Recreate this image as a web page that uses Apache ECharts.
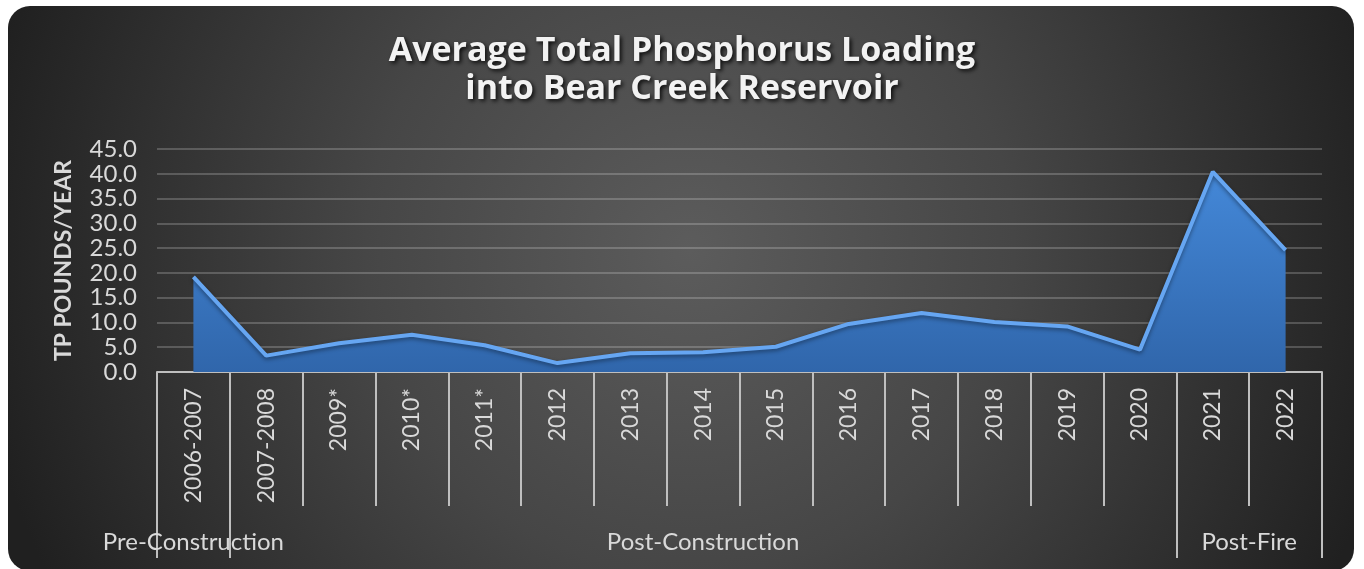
<!DOCTYPE html>
<html>
<head>
<meta charset="utf-8">
<script src="https://cdn.jsdelivr.net/npm/echarts@6/dist/echarts.min.js"></script>
<style>
  html, body { margin: 0; padding: 0; background: #ffffff; }
  #chart { width: 1364px; height: 569px; }
</style>
</head>
<body>
<div id="chart"></div>
<script>
// categories on the x axis
var years = ['2006-2007', '2007-2008', '2009*', '2010*', '2011*', '2012', '2013', '2014',
    '2015', '2016', '2017', '2018', '2019', '2020', '2021', '2022'];
// average TP loading, pounds/year
var tpLoading = [19.2, 3.3, 5.8, 7.5, 5.4, 1.8, 3.8, 4.0, 5.1, 9.7, 11.9, 10.1, 9.2, 4.5, 40.4, 24.6];
// y axis ticks
var yTicks = [0, 5, 10, 15, 20, 25, 30, 35, 40, 45];
// period groups under the axis: name, first index, last index
var periodNames = ['Pre-Construction', 'Post-Construction', 'Post-Fire'];
var periodStart = [0, 1, 14];
var periodEnd = [0, 13, 15];

var gridLeft = 157, gridRight = 42;
var bandWidth = (1364 - gridLeft - gridRight) / years.length;
var labelColor = '#d9d9d9';
var fontFamily = 'Lato, "Open Sans", sans-serif';

// where each period label goes (index + half-band shift)
var periodLabelAt = {};
periodNames.forEach(function (name, i) {
    var mid = (periodStart[i] + periodEnd[i]) / 2;
    var idx = Math.floor(mid);
    periodLabelAt[idx] = { name: name, shift: (mid - idx) * 2 * bandWidth };
});
var groupRich = {};
Object.keys(periodLabelAt).forEach(function (k) {
    groupRich['p' + k] = {
        color: labelColor, fontSize: 24, fontFamily: fontFamily,
        padding: [0, 0, 0, periodLabelAt[k].shift]
    };
});

var dom = document.getElementById('chart');
var myChart = echarts.init(dom, null, { renderer: 'canvas' });

var option = {
    backgroundColor: '#ffffff',
    animation: false,
    graphic: [
        {
            type: 'rect',
            z: -10,
            silent: true,
            shape: { x: 8, y: 6, width: 1346, height: 565, r: 22 },
            style: {
                fill: {
                    type: 'radial', x: 690, y: 250, r: 720, global: true,
                    colorStops: [
                        { offset: 0, color: '#5c5c5c' },
                        { offset: 0.45, color: '#464646' },
                        { offset: 1, color: '#202020' }
                    ]
                }
            }
        }
    ],
    title: {
        text: 'Average Total Phosphorus Loading\ninto Bear Creek Reservoir',
        left: 'center',
        top: 27,
        textStyle: {
            color: '#f2f2f2',
            fontSize: 34,
            lineHeight: 38,
            fontWeight: 'bold',
            fontFamily: '"Open Sans", Lato, sans-serif',
            textShadowColor: 'rgba(0,0,0,0.85)',
            textShadowBlur: 4,
            textShadowOffsetX: 2,
            textShadowOffsetY: 2
        }
    },
    grid: {
        left: gridLeft,
        right: gridRight,
        top: 149,
        bottom: 197,
        containLabel: false,
        outerBoundsMode: 'none'
    },
    xAxis: [
        {
            type: 'category',
            position: 'bottom',
            data: years,
            boundaryGap: true,
            axisLine: { show: true, lineStyle: { color: '#bfbfbf', width: 2 } },
            axisTick: { show: true, interval: 0, length: 134, lineStyle: { color: '#bfbfbf', width: 2 } },
            axisLabel: {
                interval: 0,
                rotate: 90,
                margin: 16,
                color: labelColor,
                fontSize: 23,
                fontFamily: fontFamily
            },
            splitLine: { show: false }
        },
        {
            type: 'category',
            position: 'bottom',
            data: years,
            boundaryGap: true,
            axisLine: { show: false },
            axisTick: {
                show: true,
                length: 186,
                interval: function (index) {
                    return periodStart.indexOf(index) >= 0;
                },
                lineStyle: { color: '#bfbfbf', width: 2 }
            },
            axisLabel: {
                interval: 0,
                margin: 158,
                formatter: function (value, index) {
                    var p = periodLabelAt[index];
                    return p ? '{p' + index + '|' + p.name + '}' : '';
                },
                rich: groupRich
            },
            splitLine: { show: false }
        }
    ],
    yAxis: {
        type: 'value',
        min: yTicks[0],
        max: yTicks[yTicks.length - 1],
        interval: yTicks[1] - yTicks[0],
        name: 'TP POUNDS/YEAR',
        nameLocation: 'middle',
        nameGap: 82,
        nameTextStyle: {
            color: labelColor,
            fontSize: 23,
            fontWeight: 'bold',
            fontFamily: fontFamily
        },
        axisLine: { show: false },
        axisTick: { show: false },
        axisLabel: {
            margin: 20,
            color: labelColor,
            fontSize: 24,
            lineHeight: 22,
            fontFamily: fontFamily,
            showMinLabel: true,
            showMaxLabel: true,
            hideOverlap: false,
            formatter: function (v) { return v.toFixed(1); }
        },
        splitLine: { show: true, lineStyle: { color: 'rgba(255,255,255,0.2)', width: 2 } }
    },
    series: [
        {
            type: 'line',
            data: tpLoading,
            xAxisIndex: 0,
            showSymbol: false,
            lineStyle: {
                color: '#66a6f2',
                width: 4,
                shadowColor: 'rgba(0,0,0,0.4)',
                shadowBlur: 4,
                shadowOffsetY: 2
            },
            areaStyle: {
                opacity: 1,
                color: {
                    type: 'linear', x: 0, y: 0, x2: 0, y2: 1,
                    colorStops: [
                        { offset: 0, color: '#4488d8' },
                        { offset: 1, color: '#3066ab' }
                    ]
                }
            },
            z: 3
        }
    ]
};

myChart.setOption(option);
window.addEventListener('resize', myChart.resize);
</script>
</body>
</html>
